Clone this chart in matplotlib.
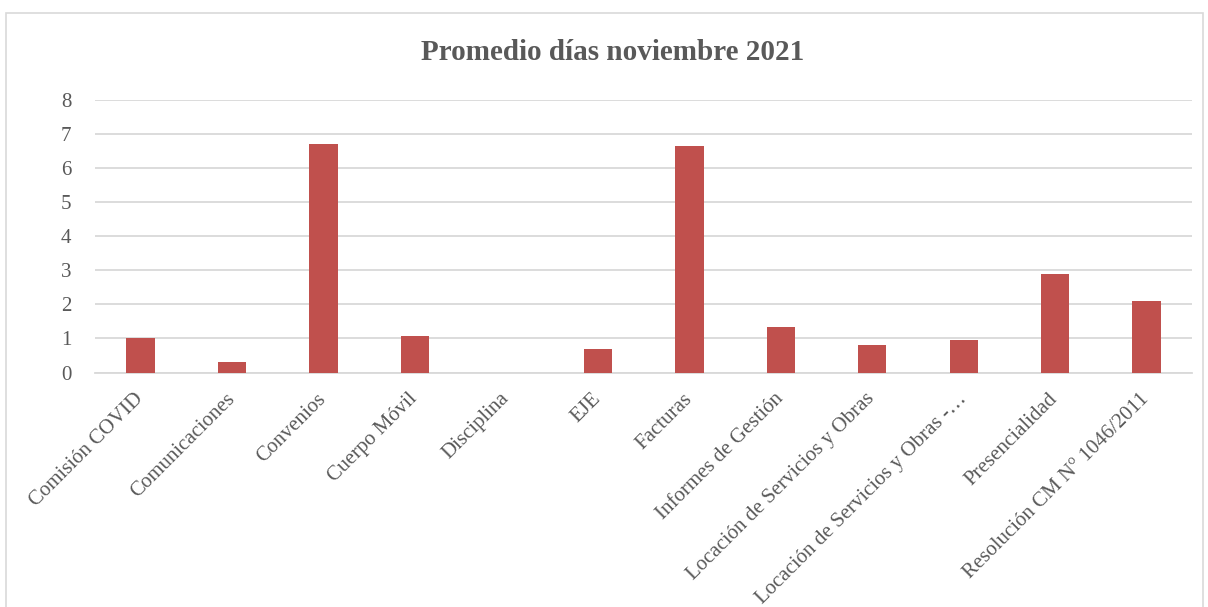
import numpy as np
import matplotlib
matplotlib.use("Agg")
import matplotlib.pyplot as plt
from matplotlib.patches import Rectangle

categories = ["Comisión COVID", "Comunicaciones", "Convenios", "Cuerpo Móvil",
              "Disciplina", "EJE", "Facturas", "Informes de Gestión",
              "Locación de Servicios y Obras", "Locación de Servicios y Obras -…",
              "Presencialidad", "Resolución CM N° 1046/2011"]
values = [1.0, 0.3, 6.71, 1.07, 0.0, 0.68, 6.63, 1.33, 0.81, 0.95, 2.89, 2.11]

bar_color = "#C0504D"
text_color = "#595959"
grid_color = "#D9D9D9"

plt.rcParams['font.family'] = ['Liberation Serif', 'DejaVu Serif']

fig = plt.figure(figsize=(12.08, 6.07), dpi=100)
ax = fig.add_axes([0.0786, 0.3863, 0.9084, 0.4497])

x = np.arange(len(categories))
ax.bar(x, values, width=0.31, color=bar_color, zorder=3)

ax.set_xlim(-0.5, len(categories) - 0.5)
ax.set_ylim(0, 8)
ax.set_yticks(range(0, 9))
ax.yaxis.grid(True, color=grid_color, linewidth=1.3, zorder=0)
for s in ["top", "right", "left"]:
    ax.spines[s].set_visible(False)
ax.spines["bottom"].set_color(grid_color)
ax.spines["bottom"].set_linewidth(1.3)
ax.tick_params(axis="both", length=0, colors=text_color, labelsize=15)
ax.tick_params(axis="y", pad=17)
ax.set_xticks(x)
ax.set_xticklabels(categories, rotation=45, ha="right", va="center",
                   rotation_mode="anchor")
ax.tick_params(axis="x", pad=17)

fig.text(0.507, 0.913, "Promedio días noviembre 2021", ha="center", va="center",
         fontsize=21, fontweight="bold", color=text_color)

# chart frame
fig.patches.append(Rectangle((0.005, -0.05), 0.991, 1.028, transform=fig.transFigure,
                             fill=False, edgecolor=grid_color, linewidth=1.2))

fig.savefig("out.png", dpi=100)
